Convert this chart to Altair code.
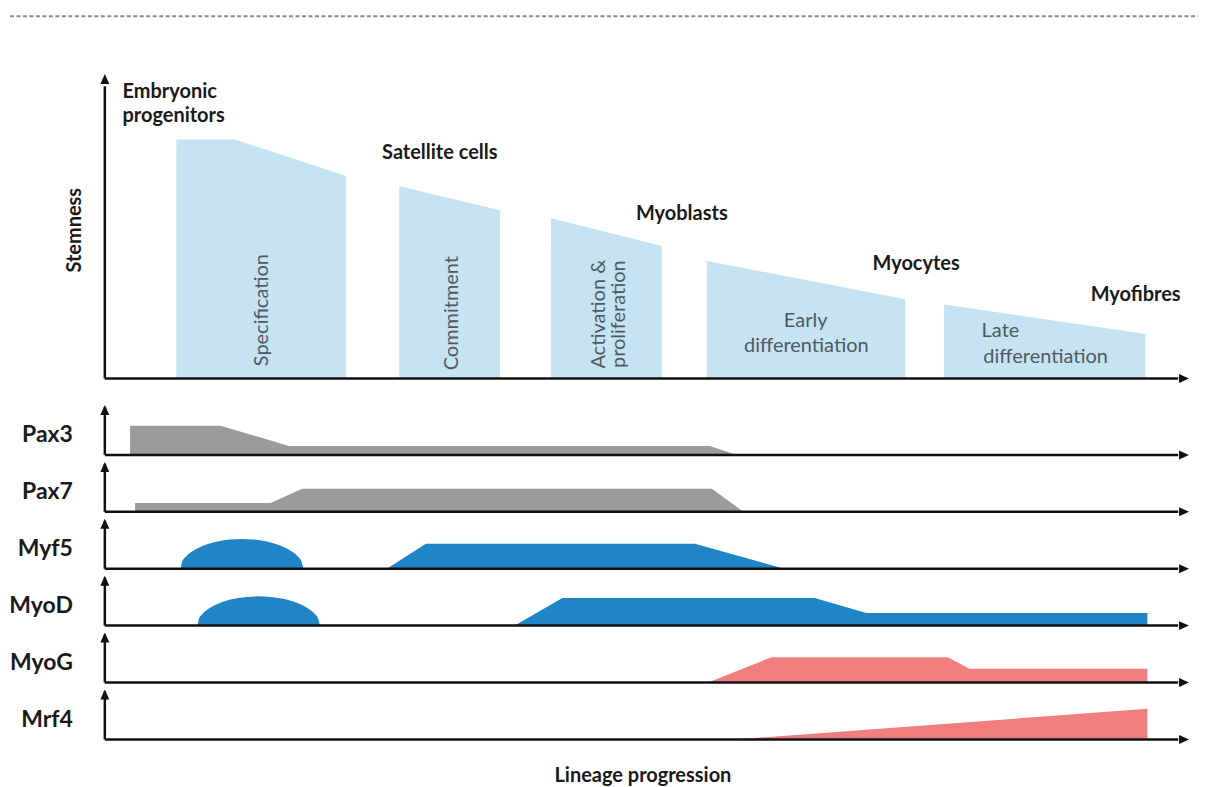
import altair as alt
import pandas as pd

# ---------------- data (x: lineage progression 0-100, arrow tip = 100) ----------------
# top panel: stemness (0-100, arrow tip = 100) of each stage
stage_ids = ["Specification", "Commitment", "Activation", "Early", "Late"]
stage_x = [[6.60, 12.00, 22.26], [27.16, 36.46], [41.16, 51.38], [55.52, 73.82], [77.41, 95.99]]
stage_y = [[78.52, 78.52, 66.49], [63.11, 55.25], [52.62, 43.54], [38.62, 26.07], [24.33, 14.59]]

cell_labels = ["Embryonic", "progenitors", "Satellite cells", "Myoblasts", "Myocytes", "Myofibres"]
cell_x = [1.63, 1.63, 25.57, 48.99, 70.81, 90.93]
cell_y = [91.97, 84.10, 72.20, 52.20, 35.57, 25.50]

# gene expression profiles (0-10, arrow tip = 10)
genes = ["Pax3", "Pax7", "Myf5", "MyoD", "MyoG", "Mrf4"]

pax3_x = [2.33, 10.68, 16.97, 55.80, 58.29]
pax3_y = [5.86, 5.86, 1.80, 1.80, 0.0]

pax7_x = [2.79, 15.29, 18.20, 55.99, 58.91]
pax7_y = [1.74, 1.74, 4.60, 4.60, 0.0]

myf5_dome_x = [7.00, 7.11, 7.49, 8.08, 9.12, 10.38, 11.54, 12.64, 13.75, 14.91, 16.17, 17.21, 17.80, 18.17, 18.30]
myf5_dome_y = [0.0, 1.24, 2.43, 3.49, 4.64, 5.44, 5.83, 5.94, 5.83, 5.44, 4.64, 3.49, 2.43, 1.24, 0.0]
myf5_x = [26.01, 29.61, 54.42, 62.65]
myf5_y = [0.0, 5.00, 5.00, 0.0]

myod_dome_x = [8.54, 8.66, 9.02, 9.61, 10.65, 11.91, 13.08, 14.18, 15.29, 16.44, 17.71, 18.75, 19.34, 19.71, 19.82]
myod_dome_y = [0.0, 1.20, 2.38, 3.44, 4.58, 5.37, 5.75, 5.86, 5.75, 5.37, 4.58, 3.44, 2.38, 1.20, 0.0]
myod_x = [37.81, 42.20, 65.47, 70.23, 96.16]
myod_y = [0.0, 5.54, 5.54, 2.54, 2.54]

myog_x = [55.64, 61.48, 77.74, 79.74, 96.16]
myog_y = [0.0, 5.06, 5.06, 2.74, 2.74]

mrf4_x = [58.10, 96.16]
mrf4_y = [0.0, 6.14]

# ---------------- tables ----------------
stage_rows = []
for sid, xs_, ys_ in zip(stage_ids, stage_x, stage_y):
    for a, b in zip(xs_, ys_):
        stage_rows.append({"stage": sid, "px": a, "val": b})
stage_df = pd.DataFrame(stage_rows)

cell_df = pd.DataFrame({"label": cell_labels, "px": cell_x, "val": cell_y})

parts = {
    "Pax3": [("flat", pax3_x, pax3_y)],
    "Pax7": [("flat", pax7_x, pax7_y)],
    "Myf5": [("dome", myf5_dome_x, myf5_dome_y), ("flat", myf5_x, myf5_y)],
    "MyoD": [("dome", myod_dome_x, myod_dome_y), ("flat", myod_x, myod_y)],
    "MyoG": [("flat", myog_x, myog_y)],
    "Mrf4": [("flat", mrf4_x, mrf4_y)],
}
gene_rows = []
for g in genes:
    for k, (kind, xs_, ys_) in enumerate(parts[g]):
        for a, b in zip(xs_, ys_):
            gene_rows.append({"gene": g, "part": f"{g}{k}", "kind": kind, "px": a, "val": b})
gene_df = pd.DataFrame(gene_rows)

# ---------------- styles ----------------
FONT = "Lato"
INK = "#1a1a1a"
SOFT = "#4f5961"
AX = "#111111"
LIGHT = "#c6e3f2"
GENE_COLOR = {"Pax3": "#9b9b9b", "Pax7": "#9b9b9b", "Myf5": "#1f85c6",
              "MyoD": "#1f85c6", "MyoG": "#f07e7e", "Mrf4": "#f07e7e"}
RIGHT = "M0,0L-2,-0.9L-2,0.9Z"
UP = "M0,0L-0.9,2L0.9,2Z"

W = 1086
xs = alt.Scale(domain=[0, 100], nice=False, zero=False)


def dec():
    return alt.Chart(alt.Data(values=[{"k": 1}]))


def X(v):
    return alt.XDatum(v, scale=xs, axis=None)


def frame(ys, ymax):
    ax = dec().mark_rule(color=AX, strokeWidth=2.5).encode(
        x=X(0), x2=alt.X2Datum(99.0), y=alt.YDatum(0, scale=ys, axis=None))
    ay = dec().mark_rule(color=AX, strokeWidth=2.5).encode(
        x=X(0), y=alt.YDatum(0, scale=ys, axis=None), y2=alt.Y2Datum(ymax * 0.96))
    hx = dec().mark_point(shape=RIGHT, filled=True, size=100, color=AX, opacity=1, strokeWidth=0).encode(
        x=X(100), y=alt.YDatum(0, scale=ys, axis=None))
    hy = dec().mark_point(shape=UP, filled=True, size=100, color=AX, opacity=1, strokeWidth=0).encode(
        x=X(0), y=alt.YDatum(ymax, scale=ys, axis=None))
    return [ax, ay, hx, hy]


def txt(text, x, y, ys, size, bold=True, color=INK, align="left", baseline="alphabetic", angle=0):
    kw = dict(text=text, font=FONT, fontSize=size, fontWeight="bold" if bold else "normal",
              color=color, align=align, baseline=baseline)
    if angle:
        kw["angle"] = angle
    return dec().mark_text(**kw).encode(x=X(x), y=alt.YDatum(y, scale=ys, axis=None))


def areas(df, ys, color, interp, group):
    return alt.Chart(df).mark_area(fill=color, opacity=1, interpolate=interp).encode(
        x=alt.X("px:Q", scale=xs, axis=None),
        y=alt.Y("val:Q", scale=ys, axis=None, stack=None),
        y2=alt.Y2Datum(0),
        detail=alt.Detail(f"{group}:N"),
    )


# ---------------- top panel ----------------
ys_top = alt.Scale(domain=[0, 100], nice=False, zero=False)
stage_area = areas(stage_df, ys_top, LIGHT, "linear", "stage")
cells = alt.Chart(cell_df).mark_text(font=FONT, fontSize=20, fontWeight="bold", color=INK,
                                     align="left", baseline="alphabetic").encode(
    x=alt.X("px:Q", scale=xs, axis=None),
    y=alt.Y("val:Q", scale=ys_top, axis=None),
    text="label:N",
)
top_layers = [stage_area, cells]
top_layers += frame(ys_top, 100)
top_layers += [
    txt("Specification", 14.50, 22.46, ys_top, 20, bold=False, color=SOFT, align="center", baseline="middle", angle=270),
    txt("Commitment", 31.98, 21.47, ys_top, 20, bold=False, color=SOFT, align="center", baseline="middle", angle=270),
    txt("Activation &", 45.60, 21.15, ys_top, 20, bold=False, color=SOFT, align="center", baseline="middle", angle=270),
    txt("proliferation", 47.42, 21.15, ys_top, 20, bold=False, color=SOFT, align="center", baseline="middle", angle=270),
    txt("Early", 64.64, 16.79, ys_top, 20, bold=False, color=SOFT, align="center"),
    txt("differentiation", 64.70, 8.79, ys_top, 20, bold=False, color=SOFT, align="center"),
    txt("Late", 80.87, 13.70, ys_top, 20, bold=False, color=SOFT, align="left"),
    txt("differentiation", 81.03, 5.18, ys_top, 20, bold=False, color=SOFT, align="left"),
    txt("Stemness", -2.76, 48.7, ys_top, 20, align="center", baseline="middle", angle=270),
    dec().mark_rule(color="#8a8a8a", strokeWidth=2, strokeDash=[4, 2.5]).encode(
        x=X(-8.75), x2=alt.X2Datum(100.83), y=alt.YDatum(119.0, scale=ys_top, axis=None)),
]
top = alt.layer(*top_layers).properties(width=W, height=305)

# ---------------- gene panels ----------------
gene_charts = []
for g in genes:
    ys_g = alt.Scale(domain=[0, 10], nice=False, zero=False)
    sub = gene_df[gene_df.gene == g]
    layers = []
    for kind, interp in (("flat", "linear"), ("dome", "monotone")):
        d = sub[sub.kind == kind]
        if len(d):
            layers.append(areas(d, ys_g, GENE_COLOR[g], interp, "part"))
    layers += frame(ys_g, 10)
    layers.append(txt(g, -2.95, 2.55, ys_g, 23, align="right"))
    if g == genes[-1]:
        layers.append(txt("Lineage progression", 49.63, -8.52, ys_g, 20, align="center"))
    gene_charts.append(alt.layer(*layers).properties(width=W, height=50))

genes_block = alt.vconcat(*gene_charts, spacing=7, bounds="flush")

chart = alt.vconcat(top, genes_block, spacing=26.5, bounds="flush").properties(
    padding={"left": 0, "top": 6.5, "right": 0, "bottom": 0},
    background="white",
).configure_view(stroke=None)

chart.save("out.html", embed_options={"renderer": "svg", "actions": False})
